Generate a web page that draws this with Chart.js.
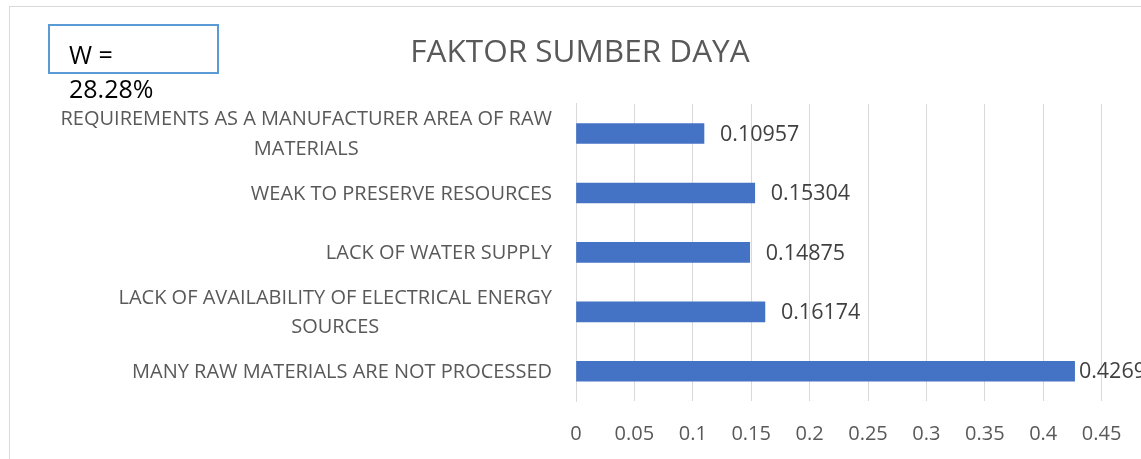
<!DOCTYPE html>
<html>
<head>
<meta charset="utf-8">
<script src="https://cdn.jsdelivr.net/npm/chart.js@4.4.1/dist/chart.umd.min.js"></script>
<style>
  html, body { margin: 0; padding: 0; background: #fff; overflow: hidden; }
  #wrap { width: 1164px; height: 459px; }
</style>
</head>
<body>
<div id="wrap"><canvas id="chart" width="1164" height="459"></canvas></div>
<script>
const chartTitle = 'FAKTOR SUMBER DAYA';
const categories = [
    ['REQUIREMENTS AS A MANUFACTURER AREA OF RAW', 'MATERIALS'],
    ['WEAK TO PRESERVE RESOURCES'],
    ['LACK OF WATER SUPPLY'],
    ['LACK OF AVAILABILITY OF ELECTRICAL ENERGY', 'SOURCES'],
    ['MANY RAW MATERIALS ARE NOT PROCESSED'],
];
const weights = [0.10957, 0.15304, 0.14875, 0.16174, 0.4269];
const weightLabels = ['0.10957', '0.15304', '0.14875', '0.16174', '0.4269'];
const xTickLabels = ['0', '0.05', '0.1', '0.15', '0.2', '0.25', '0.3', '0.35', '0.4', '0.45', '0.5'];
const boxLines = ['W =', '28.28%'];

const FONT = '"Open Sans", "Noto Sans", sans-serif';

// draws chart border, category labels, value labels and the W text box
const decor = {
    id: 'decor',
    beforeDraw(chart) {
        const ctx = chart.ctx;
        ctx.save();
        ctx.fillStyle = '#fff';
        ctx.fillRect(0, 0, chart.width, chart.height);
        ctx.strokeStyle = '#d9d9d9';
        ctx.lineWidth = 1;
        ctx.strokeRect(9.5, 6.5, chart.width - 19, chart.height + 20);
        ctx.restore();
    },
    afterDraw(chart) {
        const ctx = chart.ctx;
        const yScale = chart.scales.y;
        const left = chart.chartArea.left;
        ctx.save();

        // category labels, lines centred inside a right-aligned block
        ctx.font = '20px ' + FONT;
        ctx.fillStyle = '#595959';
        ctx.textBaseline = 'middle';
        ctx.textAlign = 'center';
        categories.forEach((lines, i) => {
            const cy = yScale.getPixelForValue(i) + 1;
            const w = Math.max(...lines.map(l => ctx.measureText(l).width));
            const cx = left - 24 - w / 2;
            lines.forEach((l, j) => {
                ctx.fillText(l, cx, cy + (j - (lines.length - 1) / 2) * 29.5);
            });
        });

        // value labels
        ctx.font = '21.5px ' + FONT;
        ctx.fillStyle = '#404040';
        ctx.textAlign = 'left';
        const limit = chart.width - 18;
        chart.getDatasetMeta(0).data.forEach((bar, i) => {
            const w = ctx.measureText(weightLabels[i]).width;
            const x = Math.min(bar.x + 16, limit - w);
            ctx.fillText(weightLabels[i], x, bar.y + 1);
        });

        // text box
        ctx.fillStyle = '#fff';
        ctx.fillRect(49, 25, 169, 48);
        ctx.strokeStyle = '#5b9bd5';
        ctx.lineWidth = 2;
        ctx.strokeRect(49, 25, 169, 48);
        ctx.font = '25px ' + FONT;
        ctx.fillStyle = '#000';
        ctx.fillText(boxLines[0], 69, 57);
        ctx.fillText(boxLines[1], 69, 91);

        ctx.restore();
    }
};

new Chart(document.getElementById('chart'), {
    type: 'bar',
    data: {
        labels: categories,
        datasets: [{
            data: weights,
            backgroundColor: '#4472c4',
            barThickness: 20,
        }],
    },
    options: {
        indexAxis: 'y',
        responsive: false,
        animation: false,
        devicePixelRatio: 1,
        layout: { padding: { left: 0, right: 4, top: 0, bottom: 0 }, autoPadding: false },
        plugins: {
            legend: { display: false },
            tooltip: { enabled: false },
            title: {
                display: true,
                text: chartTitle,
                color: '#595959',
                font: { family: FONT, size: 31.5, weight: 'normal' },
                padding: { top: 34, bottom: 32 },
            },
        },
        scales: {
            x: {
                min: 0,
                max: 0.5,
                ticks: {
                    stepSize: 0.05,
                    callback: (v, i) => xTickLabels[i],
                    color: '#595959',
                    font: { family: FONT, size: 20 },
                    padding: 21,
                    maxRotation: 0,
                    autoSkip: false,
                },
                grid: { color: '#d9d9d9', drawTicks: false },
                border: { display: false },
                afterFit: s => {
                    s.height = 58;
                    s.paddingLeft = 0;
                    s.paddingRight = 0;
                },
            },
            y: {
                ticks: { display: false },
                grid: { display: false },
                border: { color: '#d9d9d9' },
                afterFit: s => {
                    s.width = 576;
                    s.paddingTop = 0;
                    s.paddingBottom = 0;
                },
            },
        },
    },
    plugins: [decor],
});
</script>
</body>
</html>
